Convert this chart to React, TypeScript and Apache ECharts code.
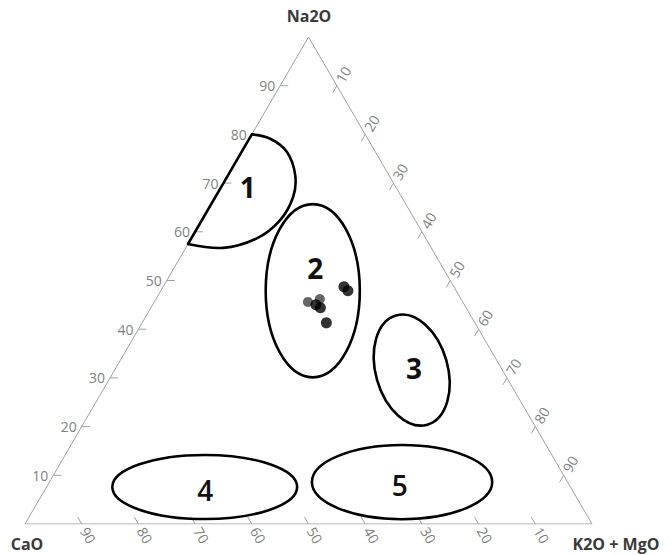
import React, { useEffect, useRef } from "react";
import * as echarts from "echarts";

// Ternary axes: Na2O (top), K2O + MgO (bottom-right), CaO (bottom-left)
const tickValues = [10, 20, 30, 40, 50, 60, 70, 80, 90];
const axisTitles = ["Na2O", "CaO", "K2O + MgO"];

// Sample points (wt% normalised)
const blackNa2O = [48.7, 47.9, 45.0, 44.4, 41.3];
const blackK2OMgO = [31.9, 33.0, 28.8, 29.9, 32.5];
const blackCaO = [19.4, 19.1, 26.2, 25.7, 26.2];
const grayNa2O = [45.6, 46.2];
const grayK2OMgO = [27.1, 28.9];
const grayCaO = [27.3, 24.9];

// Field 1 (bounded by the Na2O–CaO side)
const field1Na2O = [80, 79.1, 76.4, 71.7, 67.2, 62.4, 58.7, 56.7, 57.5];
const field1K2OMgO = [0, 3.7, 8.0, 11.8, 13.7, 13.8, 11.6, 6.6, 0];

// Elliptical fields 2–5: centre (Na2O, K2O+MgO), half-widths, tilt (deg)
const ellipseNames = ["2", "3", "4", "5"];
const ellipseNa2O = [47.9, 31.6, 7.6, 8.6];
const ellipseK2OMgO = [26.8, 52.4, 27.9, 62.2];
const ellipseRx = [8.3, 6.35, 16.3, 15.9];
const ellipseRy = [15.4, 10.1, 5.7, 6.6];
const ellipseTilt = [0, 16, 0, 0];

// Field label positions (Na2O, K2O+MgO)
const fieldLabels = ["1", "2", "3", "4", "5"];
const fieldLabelNa2O = [69.2, 52.6, 32.0, 7.0, 8.0];
const fieldLabelK2OMgO = [4.7, 24.9, 52.6, 28.3, 62.1];

const SQ = Math.sqrt(3) / 2;
const toXY = (na: number, k: number): [number, number] => [k + na / 2, na * SQ];

export default function App() {
  const ref = useRef<HTMLDivElement>(null);
  useEffect(() => {
    if (!ref.current) return;
    const chart = echarts.init(ref.current, null, { renderer: "svg" });
    const gray = "#a0a0a0";
    const labelGray = "#7f7f7f";
    const font = "'Open Sans', sans-serif";

    const triangle = [toXY(0, 0), toXY(0, 100), toXY(100, 0), toXY(0, 0)];

    const tickSeries = {
      type: "custom",
      coordinateSystem: "cartesian2d",
      silent: true,
      z: 2,
      data: tickValues.map((v) => [v, 0]),
      renderItem: (params: any, api: any) => {
        const v = api.value(0);
        const len = 8;
        const dist = 13;
        const defs = [
          { p: api.coord(toXY(v, 0)), d: [1, 0], rot: 0, text: String(v) },
          { p: api.coord(toXY(100 - v, v)), d: [-0.5, SQ], rot: Math.PI / 3, text: String(v) },
          { p: api.coord(toXY(0, 100 - v)), d: [-0.5, -SQ], rot: -Math.PI / 3, text: String(v) },
        ];
        const children: any[] = [];
        defs.forEach((df) => {
          children.push({
            type: "line",
            shape: { x1: df.p[0], y1: df.p[1], x2: df.p[0] + df.d[0] * len, y2: df.p[1] + df.d[1] * len },
            style: { stroke: gray, lineWidth: 1 },
          });
          children.push({
            type: "text",
            x: df.p[0] - df.d[0] * dist,
            y: df.p[1] - df.d[1] * dist,
            rotation: df.rot,
            style: {
              text: df.text,
              fill: labelGray,
              fontSize: 14,
              fontFamily: font,
              align: "center",
              verticalAlign: "middle",
            },
          });
        });
        return { type: "group", children };
      },
    };

    const field1Series = {
      type: "custom",
      coordinateSystem: "cartesian2d",
      silent: true,
      z: 10,
      data: [toXY(field1Na2O[0], field1K2OMgO[0])],
      renderItem: (params: any, api: any) => {
        const pts = field1Na2O.map((na, i) => api.coord(toXY(na, field1K2OMgO[i])));
        const first = pts[0];
        const last = pts[pts.length - 1];
        return {
          type: "group",
          children: [
            {
              type: "polyline",
              shape: { points: pts, smooth: 0.35 },
              style: { fill: "none", stroke: "#000", lineWidth: 2.6 },
            },
            {
              type: "line",
              shape: { x1: first[0], y1: first[1], x2: last[0], y2: last[1] },
              style: { stroke: "#000", lineWidth: 2.6, lineCap: "round" },
            },
          ],
        };
      },
    };

    const ellipseSeries = {
      type: "custom",
      coordinateSystem: "cartesian2d",
      silent: true,
      z: 10,
      data: ellipseNames.map((_, i) => {
        const c = toXY(ellipseNa2O[i], ellipseK2OMgO[i]);
        return [c[0], c[1], ellipseRx[i], ellipseRy[i], ellipseTilt[i]];
      }),
      renderItem: (params: any, api: any) => {
        const c = api.coord([api.value(0), api.value(1)]);
        const s = api.size([api.value(2), api.value(3)]);
        return {
          type: "ellipse",
          x: c[0],
          y: c[1],
          rotation: (api.value(4) * Math.PI) / 180,
          shape: { cx: 0, cy: 0, rx: s[0], ry: s[1] },
          style: { fill: "none", stroke: "#000", lineWidth: 2.6 },
        };
      },
    };

    const labelSeries = {
      type: "custom",
      coordinateSystem: "cartesian2d",
      silent: true,
      z: 10,
      data: fieldLabels.map((_, i) => toXY(fieldLabelNa2O[i], fieldLabelK2OMgO[i])),
      renderItem: (params: any, api: any) => {
        const c = api.coord([api.value(0), api.value(1)]);
        const i = params.dataIndex;
        return {
          type: "text",
          x: c[0],
          y: c[1],
          style: {
            text: fieldLabels[i],
            fill: "#111",
            fontSize: 28,
            fontWeight: i < 3 ? "bold" : 600,
            fontFamily: font,
            align: "center",
            verticalAlign: "middle",
          },
        };
      },
    };

    const titleStyle = {
      fill: "#3a3a3a",
      fontSize: 16,
      fontWeight: "bold",
      fontFamily: font,
      align: "center",
      verticalAlign: "middle",
    };

    chart.setOption({
      animation: false,
      grid: { left: 25, right: 79, top: 37, bottom: 31 },
      xAxis: { type: "value", min: 0, max: 100, show: false },
      yAxis: { type: "value", min: 0, max: 100 * SQ, show: false },
      series: [
        {
          type: "line",
          data: triangle,
          showSymbol: false,
          symbol: "none",
          silent: true,
          z: 1,
          lineStyle: { color: gray, width: 1 },
        },
        tickSeries,
        field1Series,
        ellipseSeries,
        labelSeries,
        {
          type: "scatter",
          z: 11,
          data: grayNa2O.map((na, i) => toXY(na, grayK2OMgO[i])),
          symbolSize: 10,
          itemStyle: { color: "#555", opacity: 0.9 },
        },
        {
          type: "scatter",
          z: 12,
          data: blackNa2O.map((na, i) => toXY(na, blackK2OMgO[i])),
          symbolSize: 11,
          itemStyle: { color: "#000" },
        },
      ],
      graphic: [
        { type: "text", x: 309, y: 16, style: { ...titleStyle, text: axisTitles[0] } },
        { type: "text", x: 27, y: 544, style: { ...titleStyle, text: axisTitles[1] } },
        { type: "text", x: 616, y: 544, style: { ...titleStyle, text: axisTitles[2] } },
      ],
    });
    return () => chart.dispose();
  }, []);
  return (
    <div
      ref={ref}
      style={{ position: "fixed", left: 0, top: 0, width: 671, height: 555, background: "#fff" }}
    />
  );
}
